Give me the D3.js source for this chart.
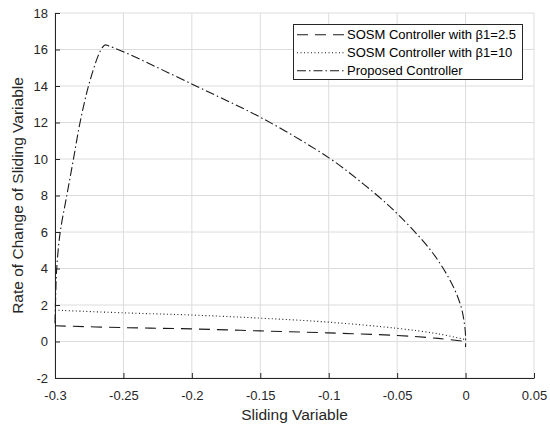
<!DOCTYPE html>
<html>
<head>
<meta charset="utf-8">
<script src="https://cdn.jsdelivr.net/npm/d3@7"></script>
<style>
  body { margin: 0; background: #fff; }
  text { font-family: "Liberation Sans", Arial, sans-serif; }
</style>
</head>
<body>
<div id="chart"></div>
<script>
// series
var sosm25X = [-0.3, -0.25, -0.2, -0.15, -0.1, -0.05, -0.02, 0];
var sosm25Y = [0.86, 0.76, 0.69, 0.58, 0.47, 0.33, 0.17, 0.0];

var sosm10X = [-0.3, -0.25, -0.2, -0.15, -0.1, -0.05, -0.02, 0];
var sosm10Y = [1.72, 1.57, 1.45, 1.28, 1.06, 0.72, 0.42, 0.10];

var proposedX = [-0.3, -0.2995, -0.2988, -0.2963, -0.2915, -0.2866, -0.2817, -0.2757, -0.2685, -0.2655, -0.2635, -0.261, -0.2501,
                 -0.199, -0.1478, -0.0996, -0.075, -0.0576, -0.0492, -0.0382, -0.026, -0.0163, -0.0077, -0.0029, -0.0007, 0, 0];
var proposedY = [1.0, 2.5, 3.93, 5.94, 7.95, 9.96, 12.0, 13.95, 15.65, 16.1, 16.25, 16.2, 15.88,
                 14.07, 12.2, 10.05, 8.65, 7.55, 6.95, 6.1, 5.05, 4.0, 2.8, 1.8, 0.9, 0.3, -0.3];

var xTicks = [-0.3, -0.25, -0.2, -0.15, -0.1, -0.05, 0, 0.05];
var yTicks = [-2, 0, 2, 4, 6, 8, 10, 12, 14, 16, 18];

var legendNames = ["SOSM Controller with \u03b21=2.5", "SOSM Controller with \u03b21=10", "Proposed Controller"];

var W = 550, H = 429;
var plotL = 55, plotR = 534, plotT = 13, plotB = 378;
var axisColor = "#262626";

var svg = d3.select("#chart").append("svg")
    .attr("width", W).attr("height", H);

var x = d3.scaleLinear().domain([-0.3, 0.05]).range([plotL, plotR]);
var y = d3.scaleLinear().domain([-2, 18]).range([plotB, plotT]);

// grid
svg.append("g").selectAll("line")
  .data(xTicks).enter().append("line")
    .attr("x1", function(d){ return x(d); }).attr("x2", function(d){ return x(d); })
    .attr("y1", plotT).attr("y2", plotB)
    .attr("stroke", "#dcdcdc").attr("stroke-width", 1);
svg.append("g").selectAll("line")
  .data(yTicks).enter().append("line")
    .attr("y1", function(d){ return y(d); }).attr("y2", function(d){ return y(d); })
    .attr("x1", plotL).attr("x2", plotR)
    .attr("stroke", "#dcdcdc").attr("stroke-width", 1);

// axes, ticks point inward like matlab
var xAxis = svg.append("g")
    .attr("transform", "translate(0," + plotB + ")")
    .call(d3.axisBottom(x).tickValues(xTicks).tickSizeInner(-5).tickSizeOuter(0).tickPadding(13));
var yAxis = svg.append("g")
    .attr("transform", "translate(" + plotL + ",0)")
    .call(d3.axisLeft(y).tickValues(yTicks).tickSizeInner(-5).tickSizeOuter(0).tickPadding(7));

[xAxis, yAxis].forEach(function(a){
  a.select(".domain").attr("stroke", axisColor);
  a.selectAll(".tick line").attr("stroke", axisColor);
  a.selectAll(".tick text").attr("fill", axisColor).style("font-size", "13px")
    .style("font-family", "'Liberation Sans', Arial, sans-serif");
});
// minus sign as plain hyphen
xAxis.selectAll(".tick text").text(function(d){ return String(+d.toFixed(2)); });
yAxis.selectAll(".tick text").text(function(d){ return String(d); });

// axis labels
svg.append("text")
    .attr("x", (plotL + plotR) / 2).attr("y", 420)
    .attr("text-anchor", "middle").attr("fill", axisColor)
    .style("font-size", "15.5px")
    .text("Sliding Variable");
svg.append("text")
    .attr("transform", "translate(23," + (plotT + plotB) / 2 + ") rotate(-90)")
    .attr("text-anchor", "middle").attr("fill", axisColor)
    .style("font-size", "15.5px")
    .text("Rate of Change of Sliding Variable");

// lines
var line = d3.line()
    .x(function(d){ return x(d[0]); })
    .y(function(d){ return y(d[1]); })
    .curve(d3.curveCatmullRom.alpha(0.5));

var series = [
  { xs: sosm25X, ys: sosm25Y, dash: "11,7" },
  { xs: sosm10X, ys: sosm10Y, dash: "1,2.5" },
  { xs: proposedX, ys: proposedY, dash: "9,3,1.5,3" }
];

series.forEach(function(s){
  var pts = s.xs.map(function(v, i){ return [v, s.ys[i]]; });
  svg.append("path")
    .datum(pts)
    .attr("d", line)
    .attr("fill", "none")
    .attr("stroke", "#1a1a1a")
    .attr("stroke-width", 1.1)
    .attr("stroke-dasharray", s.dash);
});

// legend
var lg = svg.append("g");
lg.append("rect")
    .attr("x", 293.5).attr("y", 24.5).attr("width", 229).attr("height", 55)
    .attr("fill", "#fff").attr("stroke", axisColor).attr("stroke-width", 1);

legendNames.forEach(function(name, i){
  var yy = 34.7 + i * 18;
  lg.append("line")
    .attr("x1", 297).attr("x2", 345).attr("y1", yy).attr("y2", yy)
    .attr("stroke", "#1a1a1a").attr("stroke-width", 1.1)
    .attr("stroke-dasharray", series[i].dash);
  lg.append("text")
    .attr("x", 347).attr("y", yy).attr("dy", "0.35em")
    .attr("fill", "#000")
    .style("font-size", "13px")
    .text(name);
});
</script>
</body>
</html>
